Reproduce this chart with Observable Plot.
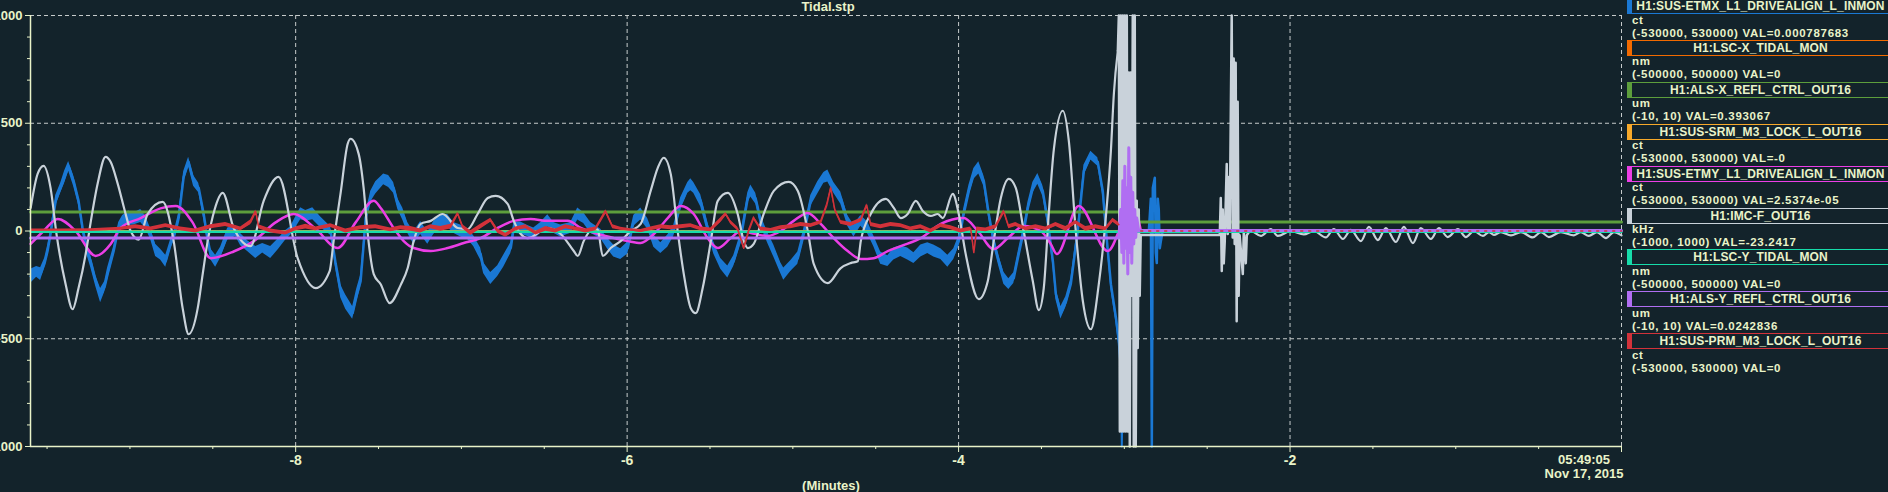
<!DOCTYPE html>
<html>
<head>
<meta charset="utf-8">
<script src="https://cdn.jsdelivr.net/npm/d3@7"></script>
<script src="https://cdn.jsdelivr.net/npm/@observablehq/plot@0.6"></script>
<style>
  html, body { margin: 0; padding: 0; background: #13232b; overflow: hidden; }
  #wrap { position: relative; width: 1888px; height: 492px; overflow: hidden; background: #13232b;
          font-family: "Liberation Sans", Arial, Helvetica, sans-serif; font-weight: bold; color: #e9f3c9; }
  #chart { position: absolute; left: 0; top: 0; }
  .lbl { position: absolute; font-size: 13px; line-height: 13px; height: 13px; white-space: nowrap; }
  .hdr { position: absolute; box-sizing: border-box; height: 16px; width: 262px; font-size: 12px; line-height: 14px;
         text-align: center; white-space: nowrap; letter-spacing: 0.15px; border-top: 1px solid; border-bottom: 1px solid; border-left: 5px solid; }
  .sub { position: absolute; font-size: 11.5px; line-height: 13px; height: 13px; white-space: nowrap; letter-spacing: 0.7px; }
</style>
</head>
<body>
<div id="wrap"><div id="chart"></div></div>
<script>
// ---------- texts ----------
const chartTitle = "Tidal.stp";
const xAxisLabel = "(Minutes)";
const endTime = "05:49:05";
const endDate = "Nov 17, 2015";

// ---------- axes ----------
const xDomain = [-9.6, 0];
const yDomain = [-1000, 1000];
const xMajor = [-8, -6, -4, -2, 0];
const xMinor = [-9.5, -9, -8.5, -7.5, -7, -6.5, -5.5, -5, -4.5, -3.5, -3, -2.5, -1.5, -1, -0.5];
const yTicks = [-1000, -500, 0, 500, 1000];
const yMinor = [-900, -800, -700, -600, -400, -300, -200, -100, 100, 200, 300, 400, 600, 700, 800, 900];

// ---------- channels (legend) ----------
const channelNames = ["H1:SUS-ETMX_L1_DRIVEALIGN_L_INMON", "H1:LSC-X_TIDAL_MON", "H1:ALS-X_REFL_CTRL_OUT16",
  "H1:SUS-SRM_M3_LOCK_L_OUT16", "H1:SUS-ETMY_L1_DRIVEALIGN_L_INMON", "H1:IMC-F_OUT16", "H1:LSC-Y_TIDAL_MON",
  "H1:ALS-Y_REFL_CTRL_OUT16", "H1:SUS-PRM_M3_LOCK_L_OUT16"];
const channelUnits = ["ct", "nm", "um", "ct", "ct", "kHz", "nm", "um", "ct"];
const channelRanges = ["(-530000, 530000)", "(-500000, 500000)", "(-10, 10)", "(-530000, 530000)", "(-530000, 530000)",
  "(-1000, 1000)", "(-500000, 500000)", "(-10, 10)", "(-530000, 530000)"];
const channelVals = ["0.000787683", "0", "0.393067", "-0", "2.5374e-05", "-23.2417", "0", "0.0242836", "0"];
const channelColors = ["#1a78d4", "#f26a00", "#5d9e3c", "#f7a92a", "#ec3ee6", "#c9d2da", "#16dcaa", "#b06ef2", "#d2323a"];

// ---------- series: [minutes, value] or [minutes, centre, half-width of noise] ----------
const imcSmooth = [[-9.599,107],[-9.557,265],[-9.521,302],[-9.479,200],[-9.442,-20],[-9.388,-247],[-9.346,-363],[-9.310,-265],[-9.267,-107],[-9.237,40],[-9.195,219],[-9.147,344],[-9.116,320],[-9.074,220],[-9.026,79],[-8.996,0],[-8.947,-40],[-8.893,79],[-8.803,135],[-8.736,-47],[-8.682,-358],[-8.646,-479],[-8.591,-358],[-8.561,-200],[-8.531,-47],[-8.489,100],[-8.440,177],[-8.374,14],[-8.272,-70],[-8.193,140],[-8.103,251],[-7.988,-126],[-7.879,-265],[-7.795,-186],[-7.771,-47],[-7.728,180],[-7.686,405],[-7.668,428],[-7.620,358],[-7.590,200],[-7.565,-14],[-7.529,-200],[-7.487,-247],[-7.433,-335],[-7.366,-250],[-7.324,-172],[-7.288,-47],[-7.246,33],[-7.185,47],[-7.113,79],[-7.022,14],[-6.962,9],[-6.902,79],[-6.841,153],[-6.793,163],[-6.721,126],[-6.684,47],[-6.642,-14],[-6.600,-33],[-6.479,14],[-6.401,-14],[-6.322,-93],[-6.298,-116],[-6.262,-47],[-6.202,14],[-6.177,5],[-6.147,-116],[-6.099,-79],[-6.039,-47],[-5.978,0],[-5.918,33],[-5.858,186],[-5.815,293],[-5.779,340],[-5.737,265],[-5.695,0],[-5.658,-200],[-5.616,-358],[-5.586,-381],[-5.544,-265],[-5.495,-47],[-5.453,140],[-5.393,177],[-5.333,79],[-5.296,-47],[-5.272,-79],[-5.236,-60],[-5.176,79],[-5.115,186],[-5.025,228],[-4.970,186],[-4.910,0],[-4.874,-153],[-4.789,-242],[-4.711,-172],[-4.651,-149],[-4.608,-140],[-4.590,-47],[-4.530,79],[-4.439,149],[-4.391,107],[-4.349,60],[-4.307,79],[-4.258,140],[-4.216,93],[-4.168,70],[-4.126,79],[-4.095,60],[-4.035,172],[-3.999,79],[-3.957,-107],[-3.878,-316],[-3.824,-233],[-3.788,-47],[-3.745,153],[-3.697,242],[-3.655,200],[-3.607,0],[-3.552,-233],[-3.516,-367],[-3.486,-265],[-3.456,79],[-3.425,380],[-3.371,558],[-3.335,419],[-3.293,0],[-3.250,-326],[-3.202,-456],[-3.154,-247],[-3.112,60],[-3.081,372],[-3.063,637],[-3.039,837]];
const imcGlitch = [[-3.039,837],[-3.033,1000],[-3.027,-930],[-3.021,1000],[-3.015,-930],[-3.009,1000],[-3.003,-930],[-2.997,1000],[-2.991,-930],[-2.985,1000],[-2.979,-930],[-2.973,735],[-2.967,-1000],[-2.961,735],[-2.955,-300],[-2.949,1000],[-2.943,-1000],[-2.937,1000],[-2.931,-1000],[-2.925,140],[-2.919,-543],[-2.913,100],[-2.907,-300],[-2.901,-18],[-2.424,-18],[-2.418,153],[-2.412,-186],[-2.406,100],[-2.400,-150],[-2.394,-50],[-2.382,311],[-2.376,-14],[-2.370,250],[-2.364,0],[-2.352,1000],[-2.346,-30],[-2.340,800],[-2.334,-60],[-2.328,781],[-2.322,-419],[-2.316,600],[-2.310,-300],[-2.304,-20],[-2.285,-200],[-2.279,0],[-2.267,-150],[-2.261,-20],[-2.249,-5]];
const imcTail = [[-2.249,-5],[-2.237,0],[-2.176,-23],[-2.116,9],[-2.074,-23],[-1.995,0],[-1.917,-16],[-1.856,0],[-1.784,-30],[-1.736,9],[-1.681,-37],[-1.633,5],[-1.573,-47],[-1.524,19],[-1.470,-42],[-1.422,14],[-1.361,-51],[-1.313,19],[-1.259,-56],[-1.211,14],[-1.150,-37],[-1.102,14],[-1.048,-28],[-0.987,9],[-0.939,-28],[-0.891,0],[-0.836,-23],[-0.800,-5],[-0.770,-18],[-0.728,-5],[-0.667,-20],[-0.607,-5],[-0.535,-30],[-0.486,-5],[-0.438,-28],[-0.366,-5],[-0.287,-20],[-0.245,-5],[-0.197,-23],[-0.148,-5],[-0.094,-33],[-0.046,-5],[0,-20]];

const etmx = [[-9.599,-210,33],[-9.563,-190,25],[-9.539,-200,30],[-9.515,-150,22],[-9.497,-93,25],[-9.479,-14,20],[-9.448,140,25],[-9.418,200,22],[-9.394,250,28],[-9.370,300,22],[-9.340,233,25],[-9.310,140,20],[-9.286,14,25],[-9.255,-100,22],[-9.237,-140,28],[-9.207,-230,25],[-9.177,-300,33],[-9.153,-260,25],[-9.135,-200,28],[-9.098,-93,22],[-9.068,20,20],[-9.044,47,25],[-9.008,60,33],[-8.978,56,28],[-8.935,70,30],[-8.905,40,28],[-8.875,-14,25],[-8.845,-90,28],[-8.815,-110,25],[-8.784,-140,28],[-8.754,-60,22],[-8.724,0,25],[-8.706,60,22],[-8.676,250,25],[-8.646,320,22],[-8.616,233,25],[-8.585,200,22],[-8.555,79,25],[-8.531,-40,22],[-8.513,-107,25],[-8.483,-140,28],[-8.453,-100,25],[-8.410,-14,28],[-8.362,0,25],[-8.332,-40,28],[-8.290,-70,25],[-8.241,-100,28],[-8.199,-80,22],[-8.151,-100,28],[-8.103,-60,25],[-8.060,-20,22],[-8.030,0,20],[-8.000,40,25],[-7.970,80,28],[-7.939,70,25],[-7.897,80,28],[-7.849,40,25],[-7.789,0,20],[-7.759,-150,25],[-7.728,-280,30],[-7.698,-330,33],[-7.656,-380,30],[-7.632,-300,30],[-7.608,-233,28],[-7.577,60,25],[-7.547,160,25],[-7.517,200,28],[-7.469,240,25],[-7.439,230,28],[-7.409,200,25],[-7.384,126,25],[-7.354,79,28],[-7.324,14,25],[-7.288,-33,28],[-7.246,14,30],[-7.203,-33,28],[-7.167,14,30],[-7.125,47,28],[-7.083,47,30],[-7.047,14,25],[-7.004,0,28],[-6.962,-14,25],[-6.926,-47,25],[-6.884,-107,28],[-6.866,-172,25],[-6.823,-220,28],[-6.781,-186,25],[-6.745,-140,28],[-6.702,-79,25],[-6.684,14,25],[-6.642,14,28],[-6.600,0,25],[-6.564,-14,28],[-6.521,14,25],[-6.479,47,28],[-6.443,14,25],[-6.401,0,28],[-6.340,14,25],[-6.298,79,28],[-6.262,60,25],[-6.220,14,25],[-6.159,-14,22],[-6.117,-60,25],[-6.081,-93,28],[-6.039,-107,25],[-5.996,-79,28],[-5.960,47,25],[-5.918,79,28],[-5.876,33,25],[-5.839,-47,28],[-5.797,-79,25],[-5.755,-47,28],[-5.719,0,25],[-5.677,126,28],[-5.634,200,25],[-5.616,215,28],[-5.598,200,25],[-5.556,140,28],[-5.514,14,25],[-5.477,-79,28],[-5.435,-153,25],[-5.393,-190,28],[-5.357,-140,25],[-5.314,-33,25],[-5.272,153,25],[-5.254,186,28],[-5.224,150,25],[-5.194,47,25],[-5.151,-33,25],[-5.115,-93,28],[-5.073,-172,25],[-5.055,-200,28],[-5.013,-163,25],[-4.970,-126,28],[-4.934,-14,25],[-4.892,140,25],[-4.850,200,28],[-4.813,247,25],[-4.789,255,28],[-4.753,200,25],[-4.711,153,28],[-4.669,47,25],[-4.632,0,28],[-4.590,47,25],[-4.548,14,28],[-4.512,-47,25],[-4.470,-126,28],[-4.427,-140,25],[-4.391,-107,28],[-4.349,-93,25],[-4.307,-107,28],[-4.270,-126,25],[-4.228,-93,28],[-4.186,-79,25],[-4.150,-93,28],[-4.107,-107,25],[-4.065,-140,28],[-4.029,-107,25],[-3.999,-47,25],[-3.969,79,25],[-3.938,186,25],[-3.908,265,25],[-3.878,293,28],[-3.848,233,25],[-3.818,79,25],[-3.788,-47,25],[-3.757,-140,25],[-3.727,-219,28],[-3.697,-247,25],[-3.667,-219,25],[-3.637,-107,25],[-3.607,0,25],[-3.582,107,25],[-3.552,200,25],[-3.522,242,25],[-3.492,186,25],[-3.462,47,25],[-3.431,-140,25],[-3.413,-293,25],[-3.383,-380,28],[-3.353,-330,25],[-3.323,-247,25],[-3.281,0,25],[-3.244,280,25],[-3.202,350,20],[-3.160,320,20],[-3.130,186,25],[-3.112,14,25],[-3.081,-247,25],[-3.051,-400,25],[-3.033,-512,25],[-3.021,-637,25]];
const etmxGlitch = [[-3.021,-637],[-3.015,-1000],[-3.009,-700]];
const etmxAfter = [[-2.852,0],[-2.840,150],[-2.834,-1000],[-2.828,200],[-2.816,247],[-2.810,-100],[-2.804,-149],[-2.798,150],[-2.792,100],[-2.786,-80],[-2.780,-50],[-2.768,2]];
const etmxFlat = [[-2.768,2],[0,2]];

const prm = [[-9.599,5,4],[-9.418,5,4],[-9.237,5,5],[-9.056,10,7],[-8.966,20,9],[-8.875,10,9],[-8.784,25,9],[-8.694,10,9],[-8.603,0,9],[-8.513,20,9],[-8.423,30,9],[-8.332,10,9],[-8.272,40,11],[-8.241,90,7],[-8.223,20,9],[-8.151,0,9],[-8.060,-10,9],[-8.000,10,9],[-7.939,20,11],[-7.879,10,9],[-7.789,25,9],[-7.698,0,9],[-7.608,15,9],[-7.517,20,9],[-7.427,5,9],[-7.366,15,9],[-7.306,10,11],[-7.246,0,9],[-7.185,20,9],[-7.125,10,11],[-7.064,20,11],[-7.022,80,7],[-6.992,20,9],[-6.944,-10,11],[-6.884,20,11],[-6.823,50,9],[-6.781,0,11],[-6.733,-20,9],[-6.672,10,9],[-6.612,20,9],[-6.551,-10,9],[-6.491,10,11],[-6.431,0,9],[-6.371,20,9],[-6.310,10,9],[-6.250,0,9],[-6.190,10,9],[-6.129,90,9],[-6.087,20,9],[-6.039,10,7],[-5.978,5,5],[-5.918,0,7],[-5.858,10,9],[-5.797,20,9],[-5.737,15,9],[-5.677,20,9],[-5.616,25,9],[-5.556,10,9],[-5.495,5,9],[-5.435,50,11],[-5.405,79,7],[-5.375,40,9],[-5.333,10,9],[-5.296,-80,7],[-5.266,0,9],[-5.236,60,9],[-5.194,10,9],[-5.133,5,7],[-5.073,15,9],[-5.013,20,9],[-4.952,30,9],[-4.892,25,9],[-4.832,40,9],[-4.795,120,9],[-4.771,200,9],[-4.747,100,9],[-4.711,40,9],[-4.651,30,9],[-4.590,50,9],[-4.554,120,7],[-4.530,30,9],[-4.470,20,9],[-4.409,30,9],[-4.349,25,9],[-4.289,10,9],[-4.228,20,9],[-4.168,0,9],[-4.107,25,9],[-4.047,15,9],[-3.987,0,9],[-3.926,10,9],[-3.908,-100,5],[-3.890,10,9],[-3.836,5,9],[-3.776,20,9],[-3.727,90,9],[-3.697,20,9],[-3.655,30,9],[-3.594,10,9],[-3.534,20,9],[-3.474,10,9],[-3.413,30,9],[-3.353,10,11],[-3.293,40,9],[-3.233,10,11],[-3.172,20,9],[-3.112,10,9],[-3.069,50,9],[-3.033,30,9]];
const prmFlat = [[-2.901,0],[0,0]];

const etmy = [[-9.599,-60],[-9.521,0],[-9.436,56],[-9.328,0],[-9.207,-116],[-9.116,-60],[-9.056,14],[-8.935,60],[-8.815,105],[-8.724,116],[-8.622,40],[-8.513,-126],[-8.374,-95],[-8.253,-47],[-8.121,40],[-8.012,79],[-7.879,10],[-7.747,-79],[-7.638,40],[-7.529,140],[-7.487,107],[-7.409,14],[-7.348,-47],[-7.288,-79],[-7.185,-93],[-7.083,-79],[-6.986,-56],[-6.884,-33],[-6.781,14],[-6.684,47],[-6.582,56],[-6.479,47],[-6.358,47],[-6.280,14],[-6.177,-14],[-6.081,-33],[-5.996,-47],[-5.918,-56],[-5.839,-14],[-5.755,60],[-5.677,116],[-5.598,79],[-5.514,-33],[-5.453,-79],[-5.375,-33],[-5.314,0],[-5.254,-9],[-5.151,-23],[-5.073,0],[-4.995,47],[-4.910,84],[-4.832,33],[-4.753,-33],[-4.669,-93],[-4.590,-130],[-4.512,-126],[-4.427,-93],[-4.349,-70],[-4.228,-33],[-4.107,33],[-3.969,60],[-3.884,0],[-3.788,-84],[-3.703,-33],[-3.607,23],[-3.504,0],[-3.444,-60],[-3.407,-107],[-3.275,116],[-3.099,-93],[-3.033,0],[-2.979,126],[-2.931,93],[-2.901,5]];
const etmyFlat = [[-2.901,5],[0,5]];

const alsX = [[-9.599,88],[-3.027,88],[-3.021,-177],[-3.003,-177],[-2.997,42],[0,42]];
const alsY = [[-9.599,-33],[-3.033,-33],[-3.021,100],[-3.015,-100],[-3.009,233],[-3.003,-150],[-2.997,300],[-2.991,-80],[-2.985,200],[-2.979,-200],[-2.973,386],[-2.967,-100],[-2.961,250],[-2.955,-150],[-2.949,180],[-2.943,-60],[-2.937,100],[-2.931,-30],[-2.925,60],[-2.913,0],[-2.901,2],[0,2]];
const lscY = [[-9.599,-3],[0,-3]];
const lscX = [[-9.599,0],[0,0]];
const srm = [[-9.599,0],[0,0]];

// ---------- drawing ----------
const fg = "#e9f3c9";
const gridColor = "#c6cbcb";
const [cBlue, cOrange, cGreen, cAmber, cMagenta, cGray, cTeal, cPurple, cRed] = channelColors;
const X = d => d[0], Y = d => d[1];
const line = (data, stroke, extra = {}) => Plot.line(data, {x: X, y: Y, stroke, strokeWidth: 2, ...extra});
const band = (data, fill) => Plot.areaY(data, {x: X, y1: d => d[1] - d[2], y2: d => d[1] + d[2], fill});

const chart = Plot.plot({
  width: 1625, height: 492,
  marginLeft: 30, marginRight: 4, marginTop: 15, marginBottom: 46,
  x: {domain: xDomain},
  y: {domain: yDomain},
  style: {background: "transparent", color: fg, fontFamily: "'Liberation Sans', Arial, sans-serif",
          fontSize: "13px", fontWeight: "bold", overflow: "visible"},
  marks: [
    Plot.gridX(xMajor, {stroke: gridColor, strokeOpacity: 1, strokeDasharray: "4,3", strokeWidth: 1}),
    Plot.gridY(yTicks, {stroke: gridColor, strokeOpacity: 1, strokeDasharray: "4,3", strokeWidth: 1}),
    // ETMX (blue)
    band(etmx, cBlue),
    line(etmx, cBlue, {strokeWidth: 2.5}),
    line(etmxGlitch, cBlue),
    line(etmxAfter, cBlue, {strokeWidth: 2.5}),
    line(etmxFlat, cBlue, {strokeWidth: 1.5, strokeDasharray: "3,5"}),
    // LSC-X (orange), ALS-X (green), SRM (amber)
    line(lscX, cOrange, {strokeWidth: 1.5}),
    line(alsX, cGreen, {strokeWidth: 3}),
    line(srm, cAmber, {strokeWidth: 1.5}),
    // ETMY (magenta)
    line(etmy, cMagenta, {curve: "monotone-x", strokeWidth: 2.5}),
    line(etmyFlat, cMagenta, {strokeWidth: 2, strokeDasharray: "4,3"}),
    // IMC-F (gray)
    line(imcSmooth, cGray, {curve: "monotone-x", strokeWidth: 2.2}),
    line(imcGlitch, cGray, {strokeWidth: 2.5}),
    line(imcTail, cGray, {curve: "monotone-x", strokeWidth: 2.2}),
    // LSC-Y (teal), ALS-Y (purple)
    line(lscY, cTeal, {strokeWidth: 2.5}),
    line(alsY, cPurple, {strokeWidth: 3}),
    // PRM (red)
    band(prm, cRed),
    line(prm, cRed, {strokeWidth: 1.5}),
    line(prmFlat, cRed, {strokeWidth: 1.5, strokeDasharray: "2,6"}),
    // axes
    Plot.ruleX([xDomain[0]], {stroke: fg, strokeWidth: 1.5}),
    Plot.ruleY([yDomain[0]], {stroke: fg, strokeWidth: 1.5}),
    Plot.axisX({ticks: xMinor, tickSize: 3, tickFormat: () => "", stroke: fg, label: null}),
    Plot.axisX({ticks: xMajor, tickSize: 6, tickPadding: 3, tickFormat: d => d === 0 ? "" : String(d),
                stroke: fg, fill: fg, fontSize: 14, label: null}),
    Plot.axisY({ticks: yMinor, tickSize: 3, tickFormat: () => "", stroke: fg, label: null}),
    Plot.axisY({ticks: yTicks, tickSize: 5, tickPadding: 3, tickFormat: d => String(d), stroke: fg, fill: fg, label: null})
  ]
});
document.getElementById("chart").appendChild(chart);

// ---------- html labels ----------
const wrap = document.getElementById("wrap");
function addText(cls, text, css) {
  const el = document.createElement("div");
  el.className = cls;
  el.textContent = text;
  Object.assign(el.style, css);
  wrap.appendChild(el);
  return el;
}
addText("lbl", chartTitle, {left: "778px", width: "100px", textAlign: "center", top: "0px"});
addText("lbl", xAxisLabel, {left: "771px", width: "120px", textAlign: "center", top: "479px"});
addText("lbl", endTime, {left: "1524px", width: "120px", textAlign: "center", top: "453px"});
addText("lbl", endDate, {left: "1524px", width: "120px", textAlign: "center", top: "467px"});

channelNames.forEach((name, i) => {
  const top = -2 + 41.9 * i;
  addText("hdr", name, {left: "1627px", top: top + "px", borderColor: channelColors[i]});
  addText("sub", channelUnits[i], {left: "1632px", top: (top + 15.5) + "px"});
  addText("sub", channelRanges[i] + " VAL=" + channelVals[i], {left: "1632px", top: (top + 28.5) + "px"});
});
</script>
</body>
</html>
